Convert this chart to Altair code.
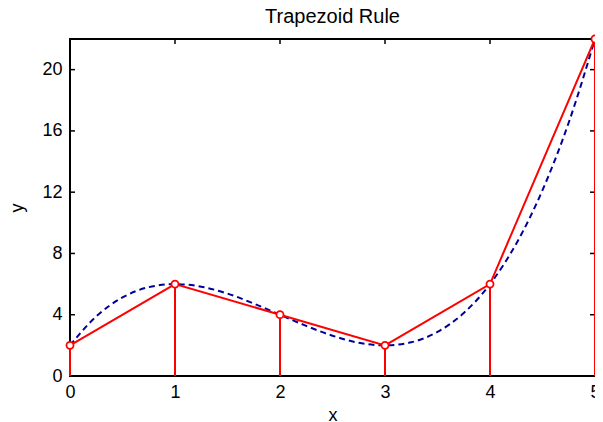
import altair as alt
import pandas as pd

# Trapezoid nodes
xs = [0, 1, 2, 3, 4, 5]
ys = [2, 6, 4, 2, 6, 22]

# Dashed curve
curve_x = [0, 0.25, 0.5, 0.75, 1, 1.25, 1.5, 1.75, 2, 2.25, 2.5, 2.75, 3,
           3.25, 3.5, 3.75, 4, 4.25, 4.5, 4.75, 5]
curve_y = [2, 3.89, 5.13, 5.80, 6, 5.83, 5.38, 4.73, 4, 3.27, 2.63, 2.17, 2,
           2.20, 2.88, 4.11, 6, 8.64, 12.13, 16.55, 22]

xtick_vals = [0, 1, 2, 3, 4, 5]
ytick_vals = [0, 4, 8, 12, 16, 20]
inner_xticks = [1, 2, 3, 4]
inner_yticks = [4, 8, 12, 16, 20]

W, H = 525, 337
FONT = "Liberation Sans"

nodes = pd.DataFrame({"x": xs, "y": ys, "y0": [0] * len(xs)})
curve = pd.DataFrame({"x": curve_x, "y": curve_y})
xt = pd.DataFrame({"v": inner_xticks})
yt = pd.DataFrame({"v": inner_yticks})

xscale = alt.Scale(domain=[0, 5], nice=False, zero=False)
yscale = alt.Scale(domain=[0, 22], nice=False, zero=False)

xaxis = alt.Axis(values=xtick_vals, format="d", ticks=False, domain=False, grid=False,
                 labelFontSize=18, labelPadding=7, labelFont=FONT,
                 labelColor="black", title="x", titleFont=FONT,
                 titleFontSize=18, titleFontWeight="normal",
                 titleColor="black", titlePadding=5, labelFlush=False)
yaxis = alt.Axis(values=ytick_vals, format="d", ticks=False, domain=False, grid=False,
                 labelFontSize=18, labelPadding=8, labelFont=FONT,
                 labelColor="black", title="y", titleFont=FONT,
                 titleFontSize=18, titleFontWeight="normal",
                 titleColor="black", titlePadding=15, labelFlush=False)

X = alt.X("x:Q", scale=xscale, axis=xaxis)
Y = alt.Y("y:Q", scale=yscale, axis=yaxis)

curve_layer = alt.Chart(curve).mark_line(
    color="#000099", strokeWidth=2, strokeDash=[6, 4], interpolate="monotone"
).encode(x=X, y=Y)

stems = alt.Chart(nodes).mark_rule(color="#FF0000", strokeWidth=2).encode(
    x=alt.X("x:Q", scale=xscale), y=alt.Y("y0:Q", scale=yscale), y2="y:Q"
)

poly = alt.Chart(nodes).mark_line(color="#FF0000", strokeWidth=2).encode(
    x=alt.X("x:Q", scale=xscale), y=alt.Y("y:Q", scale=yscale)
)

pts = alt.Chart(nodes).mark_point(
    shape="circle", filled=True, fill="white", stroke="#FF0000",
    strokeWidth=1.8, size=50, opacity=1
).encode(x=alt.X("x:Q", scale=xscale), y=alt.Y("y:Q", scale=yscale))

tick_style = dict(color="black", strokeWidth=1.5)
left_ticks = alt.Chart(yt).mark_rule(**tick_style).encode(
    y=alt.Y("v:Q", scale=yscale), x=alt.value(0), x2=alt.value(5))
right_ticks = alt.Chart(yt).mark_rule(**tick_style).encode(
    y=alt.Y("v:Q", scale=yscale), x=alt.value(W - 5), x2=alt.value(W))
top_ticks = alt.Chart(xt).mark_rule(**tick_style).encode(
    x=alt.X("v:Q", scale=xscale), y=alt.value(0), y2=alt.value(5))
bottom_ticks = alt.Chart(xt).mark_rule(**tick_style).encode(
    x=alt.X("v:Q", scale=xscale), y=alt.value(H - 5), y2=alt.value(H))

chart = alt.layer(
    curve_layer, left_ticks, right_ticks, top_ticks, bottom_ticks,
    stems, poly, pts
).properties(
    width=W, height=H,
    background="white",
    title=alt.TitleParams("Trapezoid Rule", font=FONT, fontSize=20,
                          fontWeight="normal", color="black", offset=5),
    autosize="none",
    padding={"left": 62, "top": 31, "right": 0, "bottom": 46},
).configure_view(stroke="black", strokeWidth=2)

chart.save("out.html", embed_options={"renderer": "svg", "actions": False})
